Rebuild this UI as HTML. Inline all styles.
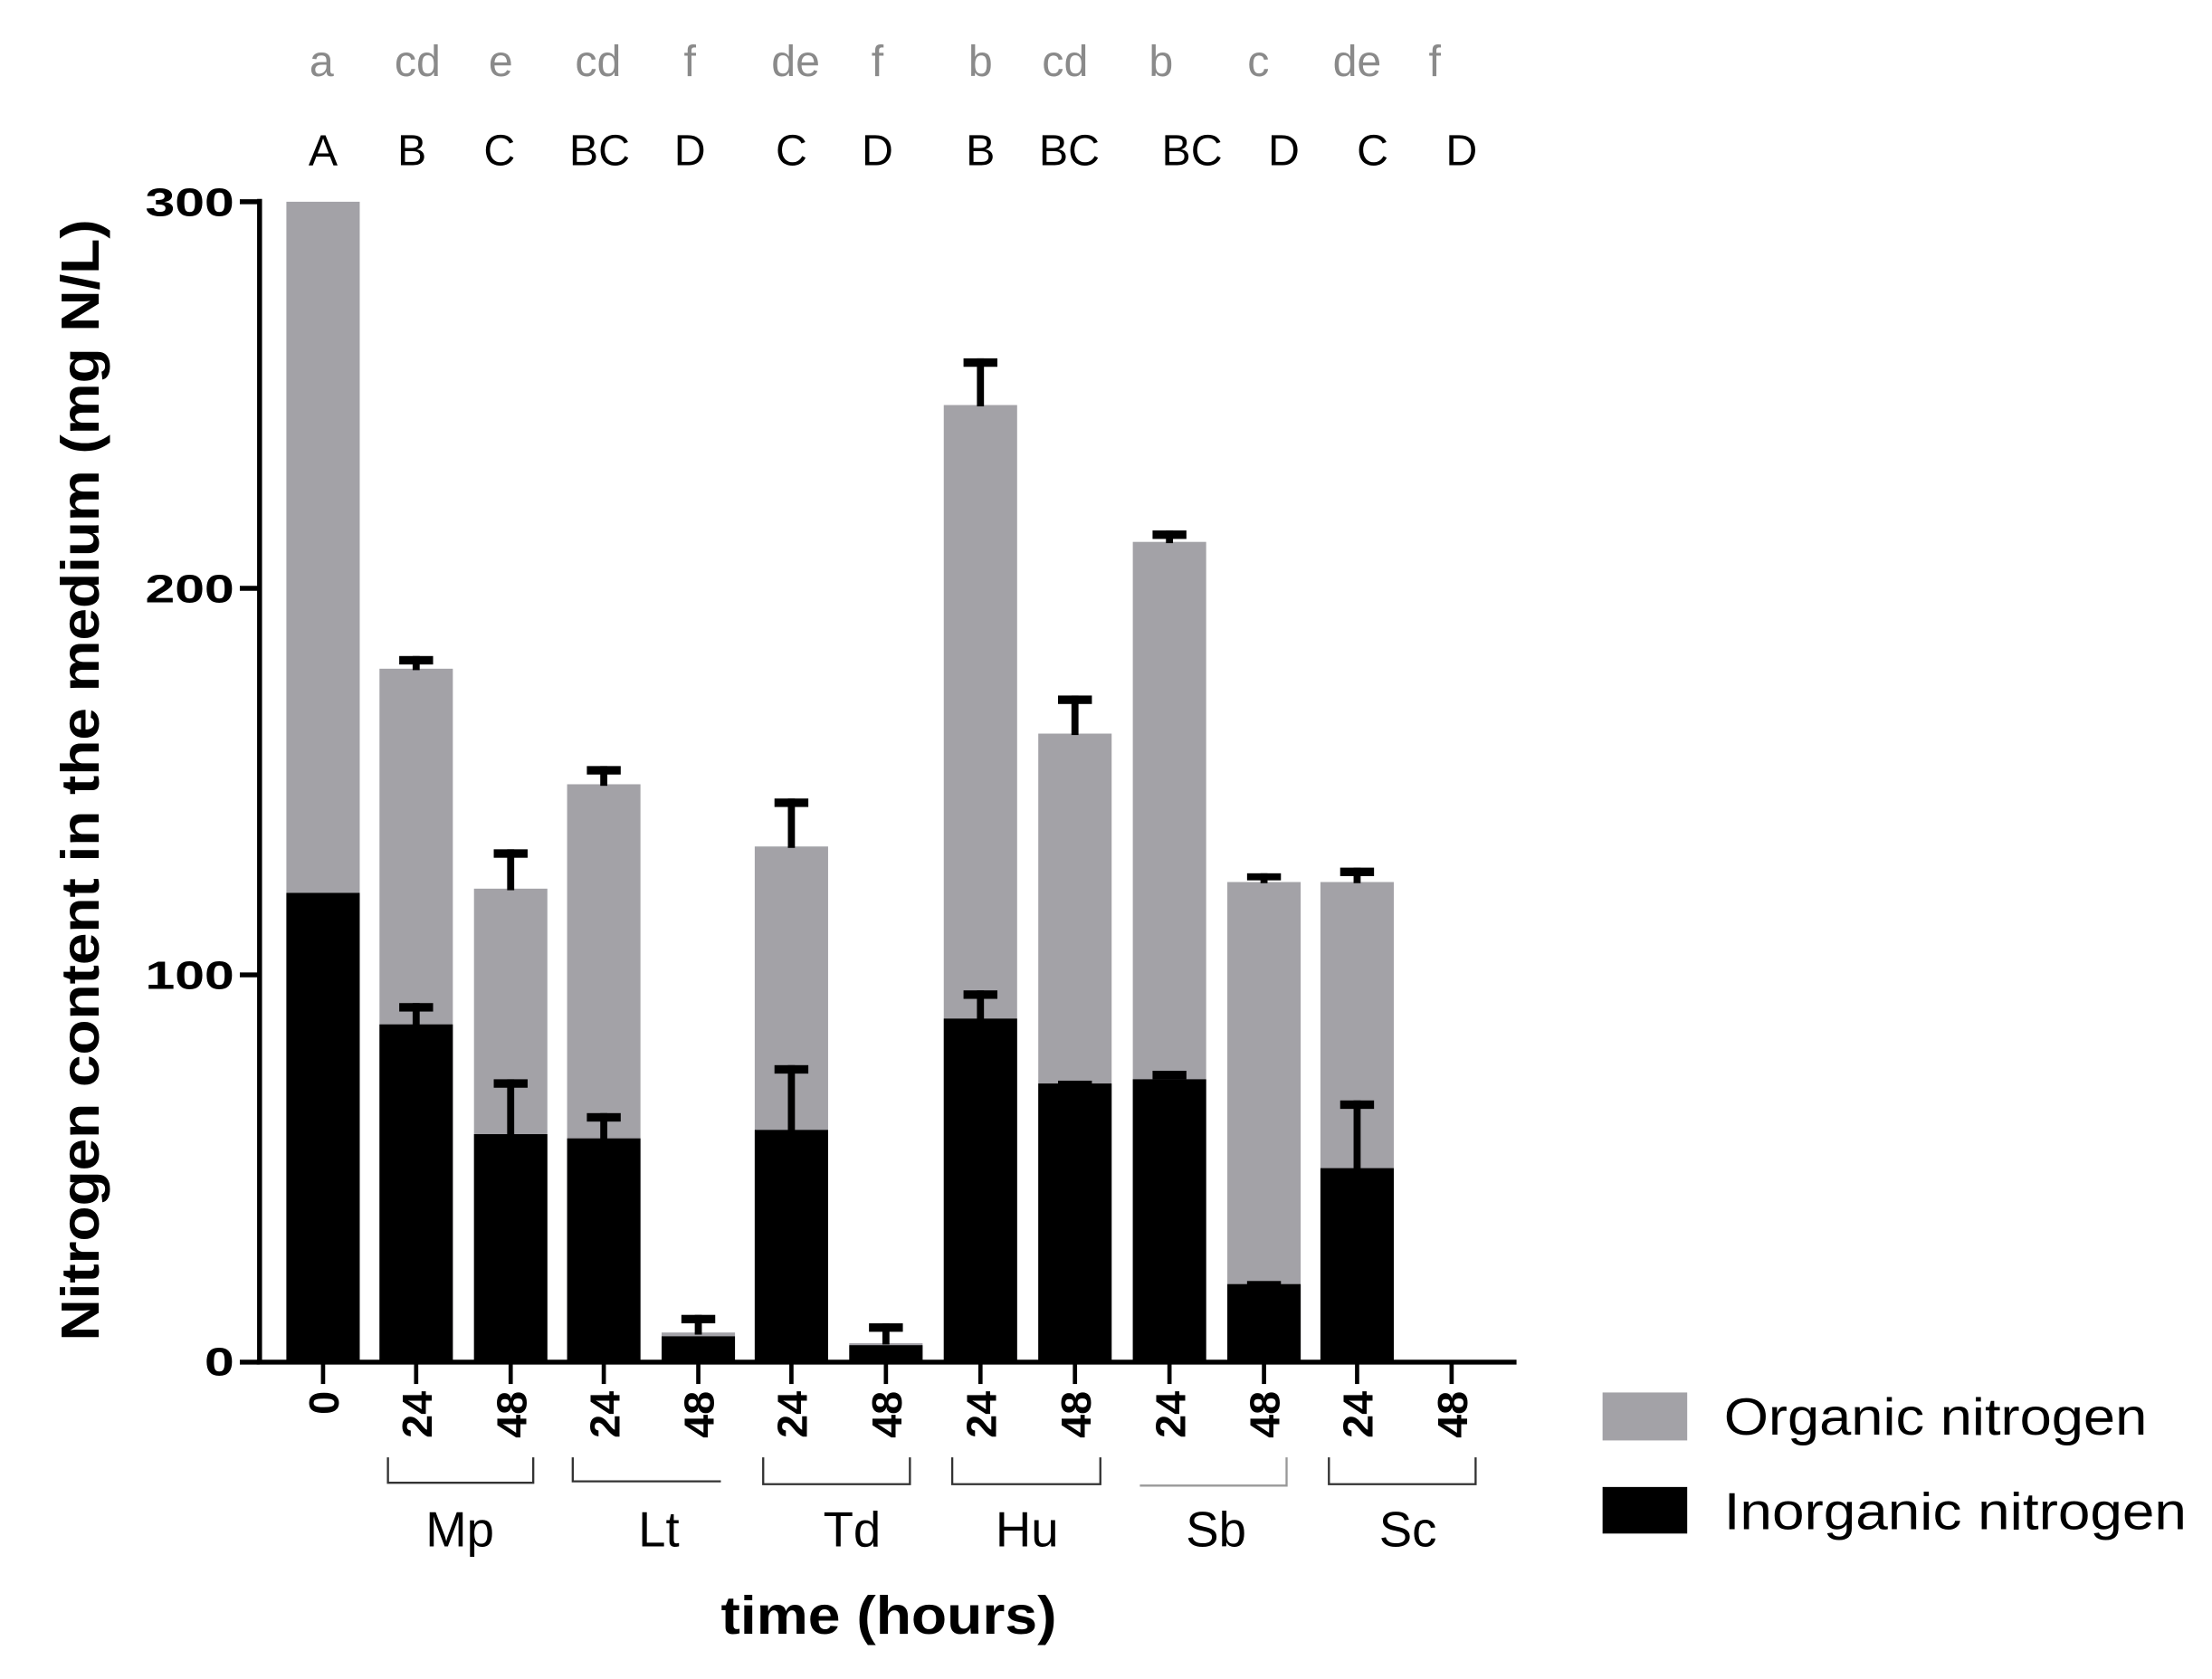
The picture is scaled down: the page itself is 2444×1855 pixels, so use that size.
<!DOCTYPE html>
<html><head><meta charset="utf-8"><style>
html,body{margin:0;padding:0;background:#fff;}
svg{display:block;}
</style></head><body>
<svg width="2444" height="1855" viewBox="0 0 1568 1190.1" preserveAspectRatio="none" xmlns="http://www.w3.org/2000/svg">
<rect width="1568" height="1191" fill="#fff"/>
<g font-family="'Liberation Sans Narrow','Liberation Sans',sans-serif" font-size="31" fill="#8a8a8a" text-anchor="middle">
<text x="228" y="54">a</text><text x="296" y="54">cd</text><text x="355" y="54">e</text><text x="424" y="54">cd</text><text x="489" y="54">f</text><text x="564" y="54">de</text><text x="622" y="54">f</text><text x="695" y="54">b</text><text x="755" y="54">cd</text><text x="823" y="54">b</text><text x="892" y="54">c</text><text x="962" y="54">de</text><text x="1017" y="54">f</text>
</g>
<g font-family="'Liberation Sans Narrow','Liberation Sans',sans-serif" font-size="31" fill="#000" text-anchor="middle">
<text x="229" y="117">A</text><text x="292" y="117">B</text><text x="354" y="117">C</text><text x="425" y="117">BC</text><text x="489" y="117">D</text><text x="561" y="117">C</text><text x="622" y="117">D</text><text x="695" y="117">B</text><text x="758" y="117">BC</text><text x="845" y="117">BC</text><text x="910" y="117">D</text><text x="973" y="117">C</text><text x="1036" y="117">D</text>
</g>
<!-- bars -->
<g>
<rect x="203" y="143" width="52" height="822" fill="#a3a2a7"/><rect x="203" y="632.9" width="52" height="332.1" fill="#000"/>
<rect x="269" y="474" width="52" height="491" fill="#a3a2a7"/><rect x="269" y="726.1" width="52" height="238.9" fill="#000"/>
<rect x="336" y="629.9" width="52" height="335.1" fill="#a3a2a7"/><rect x="336" y="803.9" width="52" height="161.1" fill="#000"/>
<rect x="402" y="555.9" width="52" height="409.1" fill="#a3a2a7"/><rect x="402" y="806.9" width="52" height="158.1" fill="#000"/>
<rect x="469" y="944.5" width="52" height="20.5" fill="#a3a2a7"/><rect x="469" y="947.2" width="52" height="17.8" fill="#000"/>
<rect x="535" y="600" width="52" height="365" fill="#a3a2a7"/><rect x="535" y="800.9" width="52" height="164.1" fill="#000"/>
<rect x="602" y="952.1" width="52" height="12.9" fill="#a3a2a7"/><rect x="602" y="953.5" width="52" height="11.5" fill="#000"/>
<rect x="669" y="287.1" width="52" height="677.9" fill="#a3a2a7"/><rect x="669" y="722" width="52" height="243" fill="#000"/>
<rect x="736" y="520" width="52" height="445" fill="#a3a2a7"/><rect x="736" y="768" width="52" height="197" fill="#000"/>
<rect x="803" y="384.1" width="52" height="580.9" fill="#a3a2a7"/><rect x="803" y="765" width="52" height="200" fill="#000"/>
<rect x="870" y="625.2" width="52" height="339.8" fill="#a3a2a7"/><rect x="870" y="910.2" width="52" height="54.8" fill="#000"/>
<rect x="936" y="625.2" width="52" height="339.8" fill="#a3a2a7"/><rect x="936" y="828" width="52" height="137" fill="#000"/>
</g>
<!-- error bars -->
<g fill="#000">
<rect x="292.5" y="465" width="5" height="10"/><rect x="283" y="465" width="24" height="6"/>
<rect x="292.5" y="711" width="5" height="16"/><rect x="283" y="711" width="24" height="6"/>
<rect x="359.5" y="602" width="5" height="29"/><rect x="350" y="602" width="24" height="6"/>
<rect x="359.5" y="765" width="5" height="40"/><rect x="350" y="765" width="24" height="6"/>
<rect x="425.5" y="543" width="5" height="14"/><rect x="416" y="543" width="24" height="6"/>
<rect x="425.5" y="789" width="5" height="19"/><rect x="416" y="789" width="24" height="6"/>
<rect x="492.5" y="932" width="5" height="14"/><rect x="483" y="932" width="24" height="6"/>
<rect x="558.5" y="566" width="5" height="35"/><rect x="549" y="566" width="24" height="6"/>
<rect x="558.5" y="755" width="5" height="47"/><rect x="549" y="755" width="24" height="6"/>
<rect x="625.5" y="938" width="5" height="15"/><rect x="616" y="938" width="24" height="6"/>
<rect x="692.5" y="254" width="5" height="34"/><rect x="683" y="254" width="24" height="6"/>
<rect x="692.5" y="702" width="5" height="21"/><rect x="683" y="702" width="24" height="6"/>
<rect x="759.5" y="493" width="5" height="28"/><rect x="750" y="493" width="24" height="6"/>
<rect x="750" y="766" width="24" height="3"/>
<rect x="826.5" y="376" width="5" height="9"/><rect x="817" y="376" width="24" height="6"/>
<rect x="817" y="759" width="24" height="6"/>
<rect x="893.5" y="619" width="5" height="7"/><rect x="884" y="619" width="24" height="5"/>
<rect x="884" y="908" width="24" height="3"/>
<rect x="959.5" y="615" width="5" height="11"/><rect x="950" y="615" width="24" height="6"/>
<rect x="959.5" y="780" width="5" height="49"/><rect x="950" y="780" width="24" height="6"/>
</g>
<!-- axes -->
<g stroke="#000" stroke-width="3.5" fill="none">
<line x1="184" y1="141" x2="184" y2="967"/>
<line x1="182" y1="965.5" x2="1075" y2="965.5"/>
<line x1="170" y1="143" x2="184" y2="143"/>
<line x1="170" y1="417" x2="184" y2="417"/>
<line x1="170" y1="691" x2="184" y2="691"/>
<line x1="170" y1="965.5" x2="184" y2="965.5"/>
</g>
<g stroke="#000" stroke-width="3">
<line x1="229" y1="966" x2="229" y2="981"/><line x1="295" y1="966" x2="295" y2="981"/><line x1="362" y1="966" x2="362" y2="981"/><line x1="428" y1="966" x2="428" y2="981"/><line x1="495" y1="966" x2="495" y2="981"/><line x1="561" y1="966" x2="561" y2="981"/><line x1="628" y1="966" x2="628" y2="981"/><line x1="695" y1="966" x2="695" y2="981"/><line x1="762" y1="966" x2="762" y2="981"/><line x1="829" y1="966" x2="829" y2="981"/><line x1="896" y1="966" x2="896" y2="981"/><line x1="962" y1="966" x2="962" y2="981"/><line x1="1029" y1="966" x2="1029" y2="981"/>
</g>
<g font-family="'Liberation Sans',sans-serif" font-weight="bold" font-size="28" fill="#000" text-anchor="end">
<text x="166" y="153" textLength="63" lengthAdjust="spacingAndGlyphs">300</text>
<text x="166" y="427" textLength="63" lengthAdjust="spacingAndGlyphs">200</text>
<text x="166" y="701" textLength="63" lengthAdjust="spacingAndGlyphs">100</text>
<text x="166" y="975" textLength="21" lengthAdjust="spacingAndGlyphs">0</text>
</g>
<g font-family="'Liberation Sans',sans-serif" font-weight="bold" font-size="30" fill="#000">
<text transform="translate(240,986) rotate(-90)" text-anchor="end">0</text>
<text transform="translate(306,986) rotate(-90)" text-anchor="end">24</text><text transform="translate(373,986) rotate(-90)" text-anchor="end">48</text>
<text transform="translate(439,986) rotate(-90)" text-anchor="end">24</text><text transform="translate(506,986) rotate(-90)" text-anchor="end">48</text>
<text transform="translate(572,986) rotate(-90)" text-anchor="end">24</text><text transform="translate(639,986) rotate(-90)" text-anchor="end">48</text>
<text transform="translate(706,986) rotate(-90)" text-anchor="end">24</text><text transform="translate(773,986) rotate(-90)" text-anchor="end">48</text>
<text transform="translate(840,986) rotate(-90)" text-anchor="end">24</text><text transform="translate(907,986) rotate(-90)" text-anchor="end">48</text>
<text transform="translate(973,986) rotate(-90)" text-anchor="end">24</text><text transform="translate(1040,986) rotate(-90)" text-anchor="end">48</text>
</g>
<!-- brackets -->
<g fill="none" stroke-width="1.5">
<path d="M275,1033 V1051 H378 V1033" stroke="#333"/>
<path d="M406,1033 V1050 H511" stroke="#333"/>
<path d="M541,1033 V1052 H645 V1033" stroke="#333"/>
<path d="M675,1033 V1052 H780 V1033" stroke="#333"/>
<path d="M808,1053 H912 V1033" stroke="#999"/>
<path d="M942,1033 V1052 H1046 V1033" stroke="#333"/>
</g>
<g font-family="'Liberation Sans Narrow','Liberation Sans',sans-serif" font-size="35" fill="#000" text-anchor="middle">
<text x="326" y="1096">Mp</text><text x="467" y="1096">Lt</text><text x="604" y="1096">Td</text><text x="728" y="1096">Hu</text><text x="862" y="1096">Sb</text><text x="998" y="1096">Sc</text>
</g>
<text x="630" y="1158" font-family="'Liberation Sans Narrow','Liberation Sans',sans-serif" font-weight="bold" font-size="38" text-anchor="middle" textLength="238" lengthAdjust="spacingAndGlyphs">time (hours)</text>
<text transform="translate(70,553) rotate(-90)" font-family="'Liberation Sans Narrow','Liberation Sans',sans-serif" font-weight="bold" font-size="38" text-anchor="middle" textLength="795" lengthAdjust="spacingAndGlyphs">Nitrogen content in the medium (mg N/L)</text>
<!-- legend -->
<rect x="1136" y="987" width="60" height="34" fill="#a3a2a7"/>
<rect x="1136" y="1054" width="60" height="33" fill="#000"/>
<g font-family="'Liberation Sans Narrow','Liberation Sans',sans-serif" font-size="37" fill="#000">
<text x="1222" y="1017" textLength="300" lengthAdjust="spacingAndGlyphs">Organic nitrogen</text>
<text x="1222" y="1084" textLength="328" lengthAdjust="spacingAndGlyphs">Inorganic nitrogen</text>
</g>
</svg>
</body></html>
